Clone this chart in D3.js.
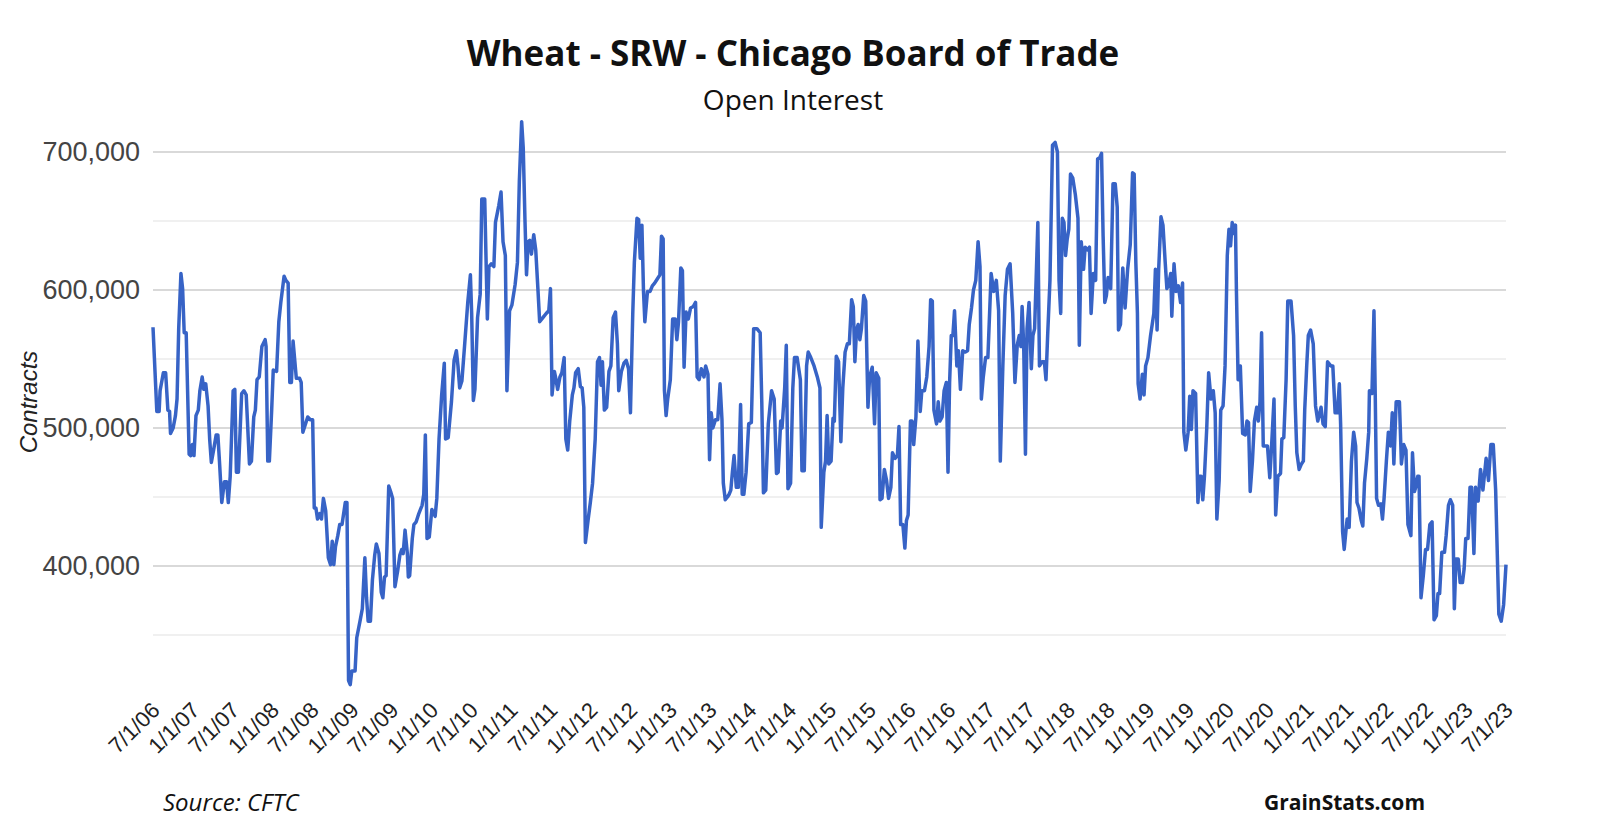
<!DOCTYPE html>
<html>
<head>
<meta charset="utf-8">
<script src="https://cdn.jsdelivr.net/npm/d3@7"></script>
<style>
  body { margin: 0; background: #fff; }
  svg { display: block; }
  .title { font-family: "Open Sans", sans-serif; font-weight: 700; font-size: 35px; fill: #111; }
  .subtitle { font-family: "Open Sans", sans-serif; font-size: 28px; fill: #111; }
  .axis-y text { font-family: "Liberation Sans", Arial, sans-serif; font-size: 27px; fill: #444; }
  .axis-x text { font-family: "Liberation Sans", Arial, sans-serif; font-size: 22px; fill: #222; }
  .axis-title { font-family: "Liberation Sans", Arial, sans-serif; font-style: italic; font-size: 24px; fill: #222; }
  .foot { font-family: "Open Sans", sans-serif; font-size: 21px; fill: #111; }
  .foot.source { font-style: italic; font-size: 24px; }
  .foot.brand { font-weight: 700; }
</style>
</head>
<body>
<svg id="chart" width="1600" height="832"></svg>
<script>
// weekly open interest (decimal years / contracts)
const weeks = [
  2006.500, 2006.548, 2006.577, 2006.589, 2006.630, 2006.659, 2006.687, 2006.708, 2006.720, 2006.753,
  2006.782, 2006.802, 2006.823, 2006.851, 2006.872, 2006.892, 2006.917, 2006.954, 2006.974, 2006.995,
  2007.015, 2007.040, 2007.069, 2007.089, 2007.118, 2007.138, 2007.163, 2007.192, 2007.212, 2007.233,
  2007.261, 2007.294, 2007.315, 2007.335, 2007.364, 2007.397, 2007.425, 2007.446, 2007.470, 2007.507,
  2007.528, 2007.548, 2007.573, 2007.614, 2007.643, 2007.671, 2007.712, 2007.737, 2007.766, 2007.786,
  2007.807, 2007.835, 2007.868, 2007.909, 2007.921, 2007.942, 2007.962, 2007.991, 2008.011, 2008.053,
  2008.081, 2008.106, 2008.147, 2008.170, 2008.198, 2008.219, 2008.239, 2008.260, 2008.301, 2008.342,
  2008.362, 2008.383, 2008.411, 2008.444, 2008.477, 2008.506, 2008.526, 2008.547, 2008.567, 2008.596,
  2008.617, 2008.641, 2008.670, 2008.703, 2008.731, 2008.752, 2008.772, 2008.793, 2008.822, 2008.846,
  2008.875, 2008.916, 2008.937, 2008.957, 2008.978, 2008.998, 2009.039, 2009.060, 2009.101, 2009.130,
  2009.162, 2009.183, 2009.203, 2009.232, 2009.257, 2009.286, 2009.306, 2009.339, 2009.368, 2009.388,
  2009.409, 2009.429, 2009.462, 2009.491, 2009.511, 2009.540, 2009.573, 2009.602, 2009.626, 2009.643,
  2009.667, 2009.696, 2009.708, 2009.725, 2009.758, 2009.778, 2009.807, 2009.840, 2009.881, 2009.902,
  2009.922, 2009.943, 2009.971, 2010.004, 2010.045, 2010.066, 2010.094, 2010.127, 2010.160, 2010.176,
  2010.209, 2010.250, 2010.283, 2010.312, 2010.332, 2010.353, 2010.381, 2010.414, 2010.455, 2010.488,
  2010.504, 2010.525, 2010.545, 2010.578, 2010.611, 2010.631, 2010.668, 2010.701, 2010.721, 2010.750,
  2010.783, 2010.803, 2010.844, 2010.873, 2010.898, 2010.927, 2010.947, 2010.980, 2011.009, 2011.050,
  2011.079, 2011.103, 2011.132, 2011.152, 2011.173, 2011.193, 2011.214, 2011.234, 2011.255, 2011.284,
  2011.309, 2011.338, 2011.358, 2011.399, 2011.440, 2011.473, 2011.494, 2011.514, 2011.543, 2011.564,
  2011.584, 2011.613, 2011.637, 2011.666, 2011.687, 2011.711, 2011.736, 2011.769, 2011.789, 2011.810,
  2011.843, 2011.870, 2011.892, 2011.913, 2011.933, 2011.966, 2011.995, 2012.023, 2012.056, 2012.085,
  2012.110, 2012.130, 2012.147, 2012.171, 2012.200, 2012.229, 2012.253, 2012.282, 2012.311, 2012.335,
  2012.352, 2012.385, 2012.417, 2012.446, 2012.475, 2012.499, 2012.528, 2012.548, 2012.581, 2012.602,
  2012.622, 2012.643, 2012.663, 2012.680, 2012.713, 2012.746, 2012.774, 2012.803, 2012.836, 2012.869,
  2012.889, 2012.910, 2012.926, 2012.947, 2012.967, 2013.000, 2013.029, 2013.062, 2013.082, 2013.103,
  2013.132, 2013.152, 2013.173, 2013.198, 2013.226, 2013.255, 2013.288, 2013.317, 2013.337, 2013.362,
  2013.390, 2013.423, 2013.444, 2013.473, 2013.493, 2013.514, 2013.534, 2013.567, 2013.596, 2013.625,
  2013.649, 2013.666, 2013.690, 2013.718, 2013.739, 2013.760, 2013.780, 2013.801, 2013.829, 2013.854,
  2013.883, 2013.903, 2013.924, 2013.952, 2013.985, 2014.018, 2014.047, 2014.088, 2014.129, 2014.149,
  2014.170, 2014.199, 2014.231, 2014.272, 2014.305, 2014.334, 2014.355, 2014.387, 2014.404, 2014.437,
  2014.457, 2014.478, 2014.511, 2014.539, 2014.560, 2014.593, 2014.634, 2014.654, 2014.683, 2014.712,
  2014.732, 2014.765, 2014.806, 2014.847, 2014.880, 2014.896, 2014.929, 2014.950, 2014.970, 2014.991,
  2015.020, 2015.044, 2015.061, 2015.085, 2015.114, 2015.143, 2015.167, 2015.196, 2015.225, 2015.249,
  2015.278, 2015.299, 2015.319, 2015.340, 2015.360, 2015.381, 2015.401, 2015.430, 2015.455, 2015.483,
  2015.504, 2015.537, 2015.566, 2015.586, 2015.619, 2015.635, 2015.660, 2015.689, 2015.717, 2015.742,
  2015.771, 2015.791, 2015.824, 2015.853, 2015.873, 2015.894, 2015.922, 2015.947, 2015.967, 2015.988,
  2016.017, 2016.037, 2016.058, 2016.086, 2016.111, 2016.140, 2016.160, 2016.193, 2016.222, 2016.251,
  2016.271, 2016.292, 2016.312, 2016.345, 2016.366, 2016.386, 2016.415, 2016.440, 2016.468, 2016.489,
  2016.509, 2016.530, 2016.550, 2016.571, 2016.600, 2016.620, 2016.645, 2016.674, 2016.702, 2016.735,
  2016.756, 2016.784, 2016.809, 2016.838, 2016.867, 2016.891, 2016.908, 2016.932, 2016.961, 2016.990,
  2017.031, 2017.064, 2017.096, 2017.125, 2017.146, 2017.178, 2017.207, 2017.236, 2017.269, 2017.302,
  2017.330, 2017.359, 2017.384, 2017.405, 2017.420, 2017.440, 2017.462, 2017.482, 2017.507, 2017.536,
  2017.556, 2017.577, 2017.597, 2017.618, 2017.638, 2017.671, 2017.700, 2017.720, 2017.741, 2017.770,
  2017.802, 2017.835, 2017.864, 2017.884, 2017.905, 2017.925, 2017.946, 2017.966, 2017.987, 2018.007,
  2018.028, 2018.057, 2018.089, 2018.122, 2018.139, 2018.163, 2018.192, 2018.212, 2018.241, 2018.266,
  2018.287, 2018.315, 2018.344, 2018.369, 2018.397, 2018.418, 2018.438, 2018.459, 2018.479, 2018.500,
  2018.533, 2018.562, 2018.590, 2018.615, 2018.631, 2018.656, 2018.685, 2018.714, 2018.746, 2018.779,
  2018.808, 2018.828, 2018.849, 2018.869, 2018.878, 2018.902, 2018.931, 2018.952, 2018.972, 2019.001,
  2019.034, 2019.075, 2019.095, 2019.116, 2019.136, 2019.165, 2019.190, 2019.218, 2019.239, 2019.260,
  2019.288, 2019.301, 2019.329, 2019.354, 2019.383, 2019.411, 2019.436, 2019.452, 2019.477, 2019.506,
  2019.526, 2019.547, 2019.567, 2019.600, 2019.629, 2019.649, 2019.670, 2019.690, 2019.711, 2019.740,
  2019.764, 2019.793, 2019.822, 2019.846, 2019.867, 2019.896, 2019.916, 2019.945, 2019.970, 2019.998,
  2020.019, 2020.039, 2020.060, 2020.080, 2020.101, 2020.113, 2020.134, 2020.162, 2020.191, 2020.224,
  2020.245, 2020.265, 2020.286, 2020.314, 2020.339, 2020.368, 2020.388, 2020.409, 2020.429, 2020.450,
  2020.478, 2020.503, 2020.532, 2020.552, 2020.585, 2020.606, 2020.634, 2020.667, 2020.684, 2020.708,
  2020.737, 2020.758, 2020.799, 2020.831, 2020.852, 2020.872, 2020.901, 2020.930, 2020.954, 2020.971,
  2020.996, 2021.016, 2021.045, 2021.078, 2021.107, 2021.135, 2021.176, 2021.201, 2021.229, 2021.258,
  2021.299, 2021.324, 2021.353, 2021.381, 2021.406, 2021.422, 2021.447, 2021.467, 2021.488, 2021.504,
  2021.529, 2021.558, 2021.586, 2021.611, 2021.628, 2021.652, 2021.681, 2021.701, 2021.722, 2021.751,
  2021.775, 2021.784, 2021.816, 2021.841, 2021.857, 2021.874, 2021.898, 2021.927, 2021.948, 2021.968,
  2021.997, 2022.022, 2022.050, 2022.071, 2022.091, 2022.120, 2022.161, 2022.186, 2022.215, 2022.243,
  2022.268, 2022.305, 2022.325, 2022.350, 2022.366, 2022.391, 2022.407, 2022.432, 2022.461, 2022.489,
  2022.514, 2022.543, 2022.571, 2022.596, 2022.625, 2022.645, 2022.666, 2022.694, 2022.727, 2022.748,
  2022.777, 2022.801, 2022.830, 2022.851, 2022.871, 2022.900, 2022.924, 2022.953, 2022.974, 2022.994,
  2023.023, 2023.048, 2023.068, 2023.097, 2023.117, 2023.150, 2023.180, 2023.210, 2023.250, 2023.280,
  2023.310, 2023.340, 2023.370, 2023.410, 2023.440, 2023.470, 2023.500
];

const openInterest = [
  573000, 512000, 512000, 527000, 540000, 540000, 513000, 512000, 496000, 500000,
  509000, 521000, 572000, 612000, 601000, 569000, 569000, 481000, 480000, 488000,
  480000, 509000, 513000, 527000, 537000, 528000, 532000, 516000, 492000, 475000,
  484000, 495000, 495000, 476000, 446000, 461000, 461000, 446000, 465000, 527000,
  528000, 468000, 468000, 525000, 527000, 524000, 474000, 476000, 508000, 513000,
  535000, 537000, 559000, 564000, 559000, 476000, 476000, 513000, 542000, 541000,
  577000, 591000, 610000, 607000, 605000, 533000, 533000, 563000, 536000, 536000,
  533000, 497000, 502000, 508000, 506000, 506000, 442000, 442000, 434000, 438000,
  434000, 449000, 440000, 406000, 401000, 418000, 401000, 414000, 422000, 430000,
  430000, 446000, 446000, 317000, 314000, 324000, 324000, 348000, 360000, 369000,
  406000, 377000, 360000, 360000, 390000, 408000, 416000, 409000, 381000, 377000,
  392000, 393000, 458000, 453000, 449000, 385000, 396000, 408000, 412000, 409000,
  426000, 409000, 392000, 393000, 420000, 430000, 432000, 438000, 444000, 452000,
  495000, 420000, 421000, 441000, 436000, 449000, 492000, 524000, 547000, 492000,
  493000, 519000, 549000, 556000, 545000, 529000, 534000, 559000, 591000, 611000,
  583000, 520000, 528000, 580000, 597000, 666000, 666000, 579000, 617000, 619000,
  617000, 649000, 661000, 671000, 635000, 625000, 527000, 585000, 589000, 604000,
  620000, 679000, 722000, 703000, 652000, 611000, 635000, 636000, 626000, 640000,
  629000, 599000, 577000, 580000, 583000, 585000, 601000, 524000, 541000, 535000,
  528000, 537000, 540000, 551000, 492000, 484000, 505000, 524000, 529000, 540000,
  543000, 530000, 529000, 515000, 417000, 433000, 446000, 460000, 492000, 548000,
  551000, 531000, 548000, 513000, 515000, 541000, 545000, 580000, 584000, 561000,
  527000, 541000, 547000, 549000, 543000, 511000, 583000, 620000, 652000, 651000,
  623000, 647000, 599000, 577000, 599000, 599000, 603000, 605000, 608000, 611000,
  639000, 637000, 527000, 509000, 521000, 535000, 579000, 579000, 564000, 577000,
  616000, 614000, 544000, 584000, 579000, 587000, 588000, 591000, 537000, 535000,
  543000, 537000, 545000, 539000, 477000, 511000, 500000, 506000, 506000, 532000,
  506000, 460000, 448000, 450000, 452000, 455000, 468000, 480000, 457000, 457000,
  517000, 452000, 452000, 468000, 503000, 504000, 572000, 572000, 569000, 519000,
  453000, 455000, 503000, 527000, 521000, 467000, 468000, 505000, 500000, 529000,
  560000, 456000, 460000, 529000, 551000, 551000, 535000, 469000, 469000, 545000,
  555000, 551000, 545000, 537000, 529000, 428000, 468000, 476000, 509000, 474000,
  476000, 507000, 505000, 552000, 548000, 490000, 529000, 555000, 561000, 561000,
  593000, 588000, 548000, 571000, 575000, 564000, 572000, 596000, 592000, 515000,
  537000, 544000, 503000, 540000, 536000, 448000, 449000, 470000, 462000, 449000,
  457000, 482000, 478000, 480000, 501000, 430000, 430000, 413000, 433000, 437000,
  505000, 505000, 488000, 508000, 563000, 512000, 527000, 527000, 537000, 559000,
  593000, 592000, 513000, 503000, 519000, 505000, 508000, 527000, 533000, 468000,
  533000, 567000, 567000, 585000, 545000, 556000, 528000, 556000, 555000, 556000,
  575000, 587000, 600000, 607000, 635000, 617000, 521000, 537000, 551000, 551000,
  612000, 599000, 607000, 585000, 476000, 545000, 596000, 615000, 619000, 583000,
  533000, 560000, 567000, 559000, 588000, 560000, 481000, 572000, 591000, 543000,
  567000, 572000, 609000, 649000, 545000, 548000, 548000, 535000, 567000, 607000,
  705000, 707000, 700000, 607000, 583000, 652000, 649000, 625000, 637000, 644000,
  684000, 681000, 669000, 652000, 560000, 635000, 615000, 631000, 629000, 631000,
  583000, 612000, 607000, 695000, 696000, 699000, 639000, 591000, 596000, 609000,
  601000, 677000, 677000, 660000, 571000, 575000, 616000, 587000, 615000, 633000,
  685000, 684000, 620000, 583000, 532000, 521000, 539000, 524000, 545000, 551000,
  567000, 583000, 615000, 571000, 615000, 653000, 647000, 620000, 601000, 604000,
  612000, 581000, 619000, 599000, 603000, 591000, 605000, 497000, 484000, 497000,
  523000, 499000, 527000, 525000, 446000, 465000, 465000, 448000, 465000, 500000,
  540000, 521000, 527000, 511000, 434000, 462000, 513000, 516000, 545000, 625000,
  644000, 632000, 649000, 641000, 647000, 599000, 535000, 545000, 496000, 495000,
  505000, 504000, 454000, 476000, 505000, 515000, 505000, 519000, 569000, 487000,
  487000, 487000, 464000, 484000, 521000, 437000, 465000, 467000, 492000, 493000,
  535000, 592000, 592000, 567000, 516000, 482000, 470000, 474000, 476000, 513000,
  545000, 567000, 571000, 561000, 516000, 505000, 515000, 503000, 501000, 548000,
  545000, 545000, 511000, 511000, 532000, 503000, 425000, 412000, 425000, 434000,
  428000, 476000, 497000, 487000, 446000, 442000, 433000, 429000, 460000, 478000,
  497000, 527000, 525000, 585000, 524000, 449000, 444000, 445000, 434000, 449000,
  476000, 497000, 487000, 511000, 474000, 519000, 519000, 474000, 488000, 484000,
  430000, 422000, 482000, 454000, 457000, 465000, 465000, 377000, 393000, 412000,
  412000, 430000, 432000, 361000, 364000, 380000, 380000, 410000, 410000, 422000,
  444000, 448000, 444000, 369000, 405000, 405000, 388000, 388000, 398000, 420000,
  420000, 457000, 457000, 409000, 457000, 447000, 470000, 455000, 478000, 462000,
  488000, 488000, 455000, 365000, 360000, 372000, 401000
];

// axis ticks
const xTickYears = d3.range(0, 35).map((i) => 2006.5 + i * 0.5);
const xTickLabels = [
  "7/1/06", "1/1/07", "7/1/07", "1/1/08", "7/1/08", "1/1/09", "7/1/09", "1/1/10", "7/1/10",
  "1/1/11", "7/1/11", "1/1/12", "7/1/12", "1/1/13", "7/1/13", "1/1/14", "7/1/14", "1/1/15",
  "7/1/15", "1/1/16", "7/1/16", "1/1/17", "7/1/17", "1/1/18", "7/1/18", "1/1/19", "7/1/19",
  "1/1/20", "7/1/20", "1/1/21", "7/1/21", "1/1/22", "7/1/22", "1/1/23", "7/1/23"
];
const yMajor = [400000, 500000, 600000, 700000];
const yMinor = [350000, 450000, 550000, 650000];

const svg = d3.select("#chart");

// scales
const x = d3.scaleLinear().domain([2006.5, 2023.5]).range([153, 1506]);
const y = d3.scaleLinear().domain([300000, 725000]).range([704, 117.5]);

// gridlines
svg.append("g")
  .selectAll("line")
  .data(yMinor)
  .join("line")
  .attr("x1", x.range()[0])
  .attr("x2", x.range()[1])
  .attr("y1", (d) => y(d))
  .attr("y2", (d) => y(d))
  .attr("stroke", "#ebebeb")
  .attr("stroke-width", 1.5);

svg.append("g")
  .selectAll("line")
  .data(yMajor)
  .join("line")
  .attr("x1", x.range()[0])
  .attr("x2", x.range()[1])
  .attr("y1", (d) => y(d))
  .attr("y2", (d) => y(d))
  .attr("stroke", "#cccccc")
  .attr("stroke-width", 1.5);

// y axis labels
const yAx = svg.append("g")
  .attr("class", "axis-y")
  .attr("transform", "translate(146,0)")
  .call(d3.axisLeft(y).tickValues(yMajor).tickSize(0).tickPadding(6).tickFormat(d3.format(",")));
yAx.select(".domain").remove();

// x axis labels, rotated
const xAx = svg.append("g")
  .attr("class", "axis-x")
  .attr("transform", "translate(0,694)")
  .call(d3.axisBottom(x).tickValues(xTickYears).tickSize(0).tickFormat((d, i) => xTickLabels[i]));
xAx.select(".domain").remove();
xAx.selectAll("text")
  .attr("text-anchor", "end")
  .attr("dy", "0.35em")
  .attr("transform", "translate(0,10) rotate(-45)");

// the series
const line = d3.line()
  .x((d, i) => x(weeks[i]))
  .y((d) => y(d));

svg.append("path")
  .datum(openInterest)
  .attr("fill", "none")
  .attr("stroke", "#3763c6")
  .attr("stroke-width", 3.5)
  .attr("stroke-linejoin", "round")
  .attr("d", line);

// titles
svg.append("text").attr("class", "title")
  .attr("x", 793).attr("y", 66).attr("text-anchor", "middle")
  .text("Wheat - SRW - Chicago Board of Trade");
svg.append("text").attr("class", "subtitle")
  .attr("x", 793).attr("y", 110).attr("text-anchor", "middle")
  .text("Open Interest");
svg.append("text").attr("class", "axis-title")
  .attr("transform", "translate(37,402) rotate(-90)")
  .attr("text-anchor", "middle")
  .text("Contracts");

// footer
svg.append("text").attr("class", "foot source")
  .attr("x", 163).attr("y", 811)
  .text("Source: CFTC");
svg.append("text").attr("class", "foot brand")
  .attr("x", 1425).attr("y", 810).attr("text-anchor", "end")
  .text("GrainStats.com");
</script>
</body>
</html>
